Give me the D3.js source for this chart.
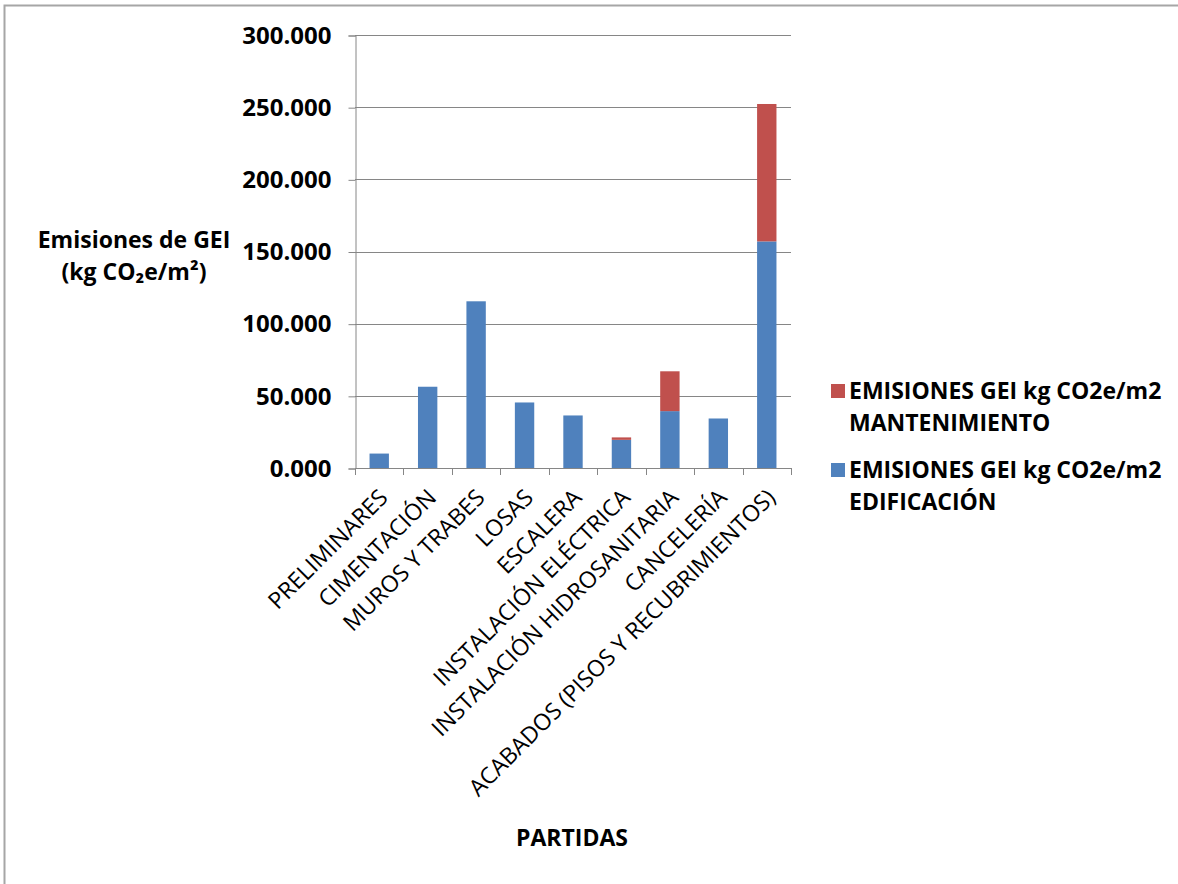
<!DOCTYPE html>
<html>
<head>
<meta charset="utf-8">
<script src="https://cdn.jsdelivr.net/npm/d3@7"></script>
<style>
  html, body { margin: 0; padding: 0; background: #fff; }
  svg { display: block; }
  text { font-family: "Open Sans", Lato, sans-serif; fill: #000; }
</style>
</head>
<body>
<svg id="chart" width="1178" height="884"></svg>
<script>
// Emissions by construction item (kg CO2e/m2)
const categories = [
  "PRELIMINARES",
  "CIMENTACIÓN",
  "MUROS Y TRABES",
  "LOSAS",
  "ESCALERA",
  "INSTALACIÓN ELÉCTRICA",
  "INSTALACIÓN HIDROSANITARIA",
  "CANCELERÍA",
  "ACABADOS (PISOS Y RECUBRIMIENTOS)"
];
const edificacion   = [10.0, 56.3, 115.5, 45.4, 36.4, 19.5, 39.4, 34.3, 157.0];
const mantenimiento = [0,    0,    0,     0,    0,    1.7,  27.6, 0,    95.2];
const yTicks = [0, 50, 100, 150, 200, 250, 300];
const seriesNames = [
  ["EMISIONES GEI kg CO2e/m2", "MANTENIMIENTO"],
  ["EMISIONES GEI kg CO2e/m2", "EDIFICACIÓN"]
];

const colorEdif = "#4F81BD";
const colorMant = "#C0504D";
const axisColor = "#868686";

const svg = d3.select("#chart");

// outer frame (top and left edges)
svg.append("path")
  .attr("d", "M4.5,1000 L4.5,5.5 L1200,5.5")
  .attr("fill", "none").attr("stroke", "#a6a6a6").attr("stroke-width", 2);

const plot = { left: 355, right: 791, top: 35, bottom: 468 };

const x = d3.scaleBand().domain(categories)
  .range([plot.left, plot.right]).paddingInner(0.6).paddingOuter(0.3);
const y = d3.scaleLinear().domain([0, 300]).range([plot.bottom, plot.top]);

// horizontal gridlines
svg.append("g").selectAll("line").data(yTicks.filter(d => d > 0)).join("line")
  .attr("x1", plot.left).attr("x2", plot.right)
  .attr("y1", d => Math.round(y(d)) + 0.5).attr("y2", d => Math.round(y(d)) + 0.5)
  .attr("stroke", axisColor).attr("stroke-width", 1);

// stacked bars
const rows = categories.map((c, i) => ({ cat: c, edif: edificacion[i], mant: mantenimiento[i] }));
const stack = d3.stack().keys(["edif", "mant"])(rows);
const colors = { edif: colorEdif, mant: colorMant };

svg.append("g").selectAll("g").data(stack).join("g")
  .attr("fill", s => colors[s.key])
  .selectAll("rect").data(s => s.filter(d => d[1] - d[0] > 0)).join("rect")
  .attr("x", d => x(d.data.cat))
  .attr("width", x.bandwidth())
  .attr("y", d => y(d[1]))
  .attr("height", d => y(d[0]) - y(d[1]));

// y axis
const yAxis = d3.axisLeft(y).tickValues(yTicks).tickSize(7).tickPadding(17)
  .tickFormat(d3.format(".3f"));
const gy = svg.append("g").attr("transform", `translate(${plot.left + 0.5},0.5)`).call(yAxis);
gy.select(".domain").attr("stroke", axisColor);
gy.selectAll(".tick line").attr("stroke", axisColor);
gy.selectAll(".tick text")
  .attr("font-family", "'Open Sans', Lato, sans-serif")
  .attr("font-size", 24).attr("font-weight", "bold").attr("fill", "#000");

// x axis line and category boundary ticks
svg.append("line")
  .attr("x1", plot.left).attr("x2", plot.right)
  .attr("y1", plot.bottom + 0.5).attr("y2", plot.bottom + 0.5)
  .attr("stroke", axisColor);
const step = x.step();
const bounds = d3.range(categories.length + 1).map(i => plot.left + i * step);
svg.append("g").selectAll("line").data(bounds).join("line")
  .attr("x1", d => Math.round(d) + 0.5).attr("x2", d => Math.round(d) + 0.5)
  .attr("y1", plot.bottom).attr("y2", plot.bottom + 7)
  .attr("stroke", axisColor);

// rotated category labels
svg.append("g").selectAll("text").data(categories).join("text")
  .attr("transform", d => `translate(${x(d) + x.bandwidth() / 2 + 10},${plot.bottom + 31}) rotate(-45)`)
  .attr("text-anchor", "end")
  .attr("font-size", 23)
  .text(d => d);

// axis titles
const yTitle = svg.append("text").attr("text-anchor", "middle")
  .attr("font-size", 23).attr("font-weight", "bold");
yTitle.append("tspan").attr("x", 134).attr("y", 248).text("Emisiones de GEI");
yTitle.append("tspan").attr("x", 134).attr("y", 280).text("(kg CO₂e/m²)");

svg.append("text").attr("x", 572).attr("y", 846).attr("text-anchor", "middle")
  .attr("font-size", 23).attr("font-weight", "bold").text("PARTIDAS");

// legend
const legend = svg.append("g");
const legendItems = [
  { color: colorMant, lines: seriesNames[0], y: 384 },
  { color: colorEdif, lines: seriesNames[1], y: 463 }
];
legendItems.forEach(it => {
  legend.append("rect").attr("x", 831).attr("y", it.y).attr("width", 14).attr("height", 14)
    .attr("fill", it.color);
  const t = legend.append("text").attr("font-size", 23).attr("font-weight", "bold");
  t.append("tspan").attr("x", 849).attr("y", it.y + 15).text(it.lines[0]);
  t.append("tspan").attr("x", 849).attr("y", it.y + 47).text(it.lines[1]);
});
</script>
</body>
</html>
